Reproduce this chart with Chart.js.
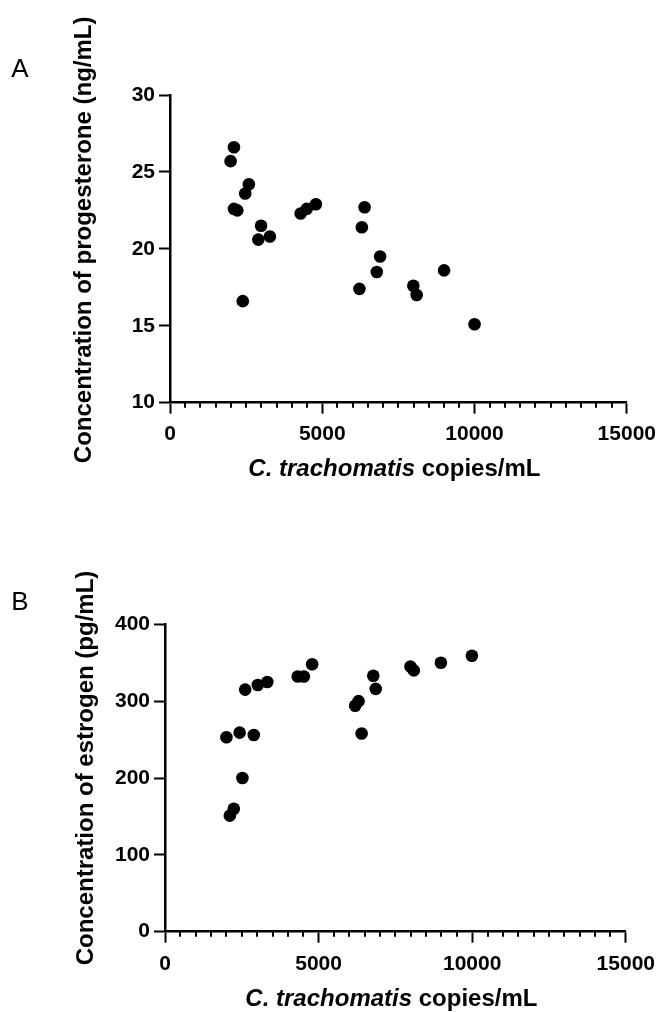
<!DOCTYPE html>
<html>
<head>
<meta charset="utf-8">
<script src="https://cdn.jsdelivr.net/npm/chart.js@4.4.1/dist/chart.umd.min.js"></script>
<style>
  html, body { margin: 0; padding: 0; background: #fff; }
  #wrap { position: relative; width: 664px; height: 1012px; }
  canvas { position: absolute; left: 0; }
</style>
</head>
<body>
<div id="wrap">
  <canvas id="chartA" width="664" height="506" style="top:0"></canvas>
  <canvas id="chartB" width="664" height="506" style="top:506px"></canvas>
</div>
<script>
const FAMILY = "'Liberation Sans', Arial, sans-serif";
Chart.defaults.font.family = FAMILY;
Chart.defaults.color = '#000';

// Panel A: progesterone vs C. trachomatis load
const copiesA = [1990, 2100, 2100, 2210, 2390, 2470, 2590, 2900, 2990, 3280, 4290, 4490, 4790,
                 6220, 6300, 6390, 6790, 6900, 7990, 8100, 9000, 10000];
const progesterone = [25.7, 26.6, 22.6, 22.5, 16.6, 23.6, 24.2, 20.6, 21.5, 20.8, 22.3, 22.6, 22.9,
                      17.4, 21.4, 22.7, 18.5, 19.5, 17.6, 17.0, 18.6, 15.1];

// Panel B: estrogen vs C. trachomatis load
const copiesB = [2000, 2110, 2240, 2430, 2520, 2610, 2890, 3020, 3330, 4320, 4520, 4790,
                 6190, 6300, 6400, 6780, 6860, 7990, 8100, 8980, 9990];
const estrogen = [253, 151, 160, 259, 200, 315, 256, 321, 325, 332, 332, 348,
                  294, 300, 258, 333, 316, 345, 340, 350, 359];

const xTicks = [0, 5000, 10000, 15000];
const progTicks = [10, 15, 20, 25, 30];
const estTicks = [0, 100, 200, 300, 400];
const MINOR_STEP = 500;

// minor x ticks, axis titles (x title mixes italic) and panel letter
const panelDecor = {
  id: 'panelDecor',
  afterDraw(chart, args, o) {
    const { ctx, chartArea: a, scales: { x } } = chart;
    ctx.save();
    ctx.strokeStyle = '#000';
    ctx.lineWidth = 2;
    for (let v = x.min + MINOR_STEP; v < x.max; v += MINOR_STEP) {
      if (xTicks.includes(v)) continue;
      const px = Math.round(x.getPixelForValue(v));
      ctx.beginPath();
      ctx.moveTo(px, a.bottom);
      ctx.lineTo(px, a.bottom + 5);
      ctx.stroke();
    }

    ctx.fillStyle = '#000';
    ctx.textBaseline = 'middle';
    ctx.textAlign = 'left';
    const fItalic = 'italic bold 24px ' + FAMILY;
    const fBold = 'bold 24px ' + FAMILY;
    ctx.font = fItalic;
    const w1 = ctx.measureText(o.titleItalic).width;
    ctx.font = fBold;
    const w2 = ctx.measureText(o.titleRest).width;
    let tx = (a.left + a.right) / 2 - (w1 + w2) / 2 + o.titleShift;
    ctx.font = fItalic;
    ctx.fillText(o.titleItalic, tx, o.titleY);
    ctx.font = fBold;
    ctx.fillText(o.titleRest, tx + w1, o.titleY);

    // y title, rotated
    ctx.save();
    ctx.translate(o.yTitleX, (a.top + a.bottom) / 2 + o.yTitleShift);
    ctx.rotate(-Math.PI / 2);
    ctx.textAlign = 'center';
    ctx.font = fBold;
    ctx.fillText(o.yTitle, 0, 0);
    ctx.restore();

    ctx.font = '26px ' + FAMILY;
    ctx.textAlign = 'center';
    ctx.fillText(o.letter, o.letterX, o.letterY);
    ctx.restore();
  }
};

function makeScatter(canvas, xs, ys, opts) {
  const points = xs.map((v, i) => ({ x: v, y: ys[i] }));
  return new Chart(canvas, {
    type: 'scatter',
    data: {
      datasets: [{
        data: points,
        backgroundColor: '#000',
        borderWidth: 0,
        pointRadius: 6.3,
        pointHoverRadius: 6.3,
      }],
    },
    options: {
      responsive: false,
      animation: false,
      layout: { padding: { top: opts.top, right: opts.right, left: 0, bottom: 0 } },
      plugins: {
        legend: { display: false },
        tooltip: { enabled: false },
        panelDecor: opts.decor,
      },
      scales: {
        x: {
          type: 'linear',
          min: 0,
          max: 15000,
          afterBuildTicks: (s) => { s.ticks = xTicks.map(v => ({ value: v })); },
          afterFit: (s) => { s.height = opts.xHeight; },
          border: { display: true, color: '#000', width: 2.5 },
          grid: { drawOnChartArea: false, tickLength: 11, tickWidth: 2, tickColor: '#000' },
          ticks: {
            font: { size: 21, weight: 'bold' },
            padding: opts.xTickPad,
            maxRotation: 0,
            callback: (v) => String(v),
          },
        },
        y: {
          type: 'linear',
          min: opts.yTicks[0],
          max: opts.yTicks[opts.yTicks.length - 1],
          afterBuildTicks: (s) => { s.ticks = opts.yTicks.map(v => ({ value: v })); },
          afterFit: (s) => { s.width = opts.yWidth; },
          border: { display: true, color: '#000', width: 2.5 },
          grid: { drawOnChartArea: false, tickLength: 11, tickWidth: 2, tickColor: '#000' },
          ticks: {
            font: { size: 21, weight: 'bold' },
            padding: 4,
            callback: (v) => String(v),
          },
        },
      },
    },
    plugins: [panelDecor],
  });
}

makeScatter(document.getElementById('chartA'), copiesA, progesterone, {
  top: 95, right: 34, xHeight: 103.3, yWidth: 170, xTickPad: 8, yTicks: progTicks,
  decor: {
    letter: 'A', letterX: 20, letterY: 70,
    titleItalic: 'C. trachomatis', titleRest: ' copies/mL', titleY: 469, titleShift: -4,
    yTitle: 'Concentration of progesterone (ng/mL)', yTitleX: 84, yTitleShift: -9,
  },
});

makeScatter(document.getElementById('chartB'), copiesB, estrogen, {
  top: 118.3, right: 37.3, xHeight: 80.3, yWidth: 165, xTickPad: 9, yTicks: estTicks,
  decor: {
    letter: 'B', letterX: 20, letterY: 97,
    titleItalic: 'C. trachomatis', titleRest: ' copies/mL', titleY: 493, titleShift: -4,
    yTitle: 'Concentration of estrogen (pg/mL)', yTitleX: 86, yTitleShift: -10,
  },
});
</script>
</body>
</html>
